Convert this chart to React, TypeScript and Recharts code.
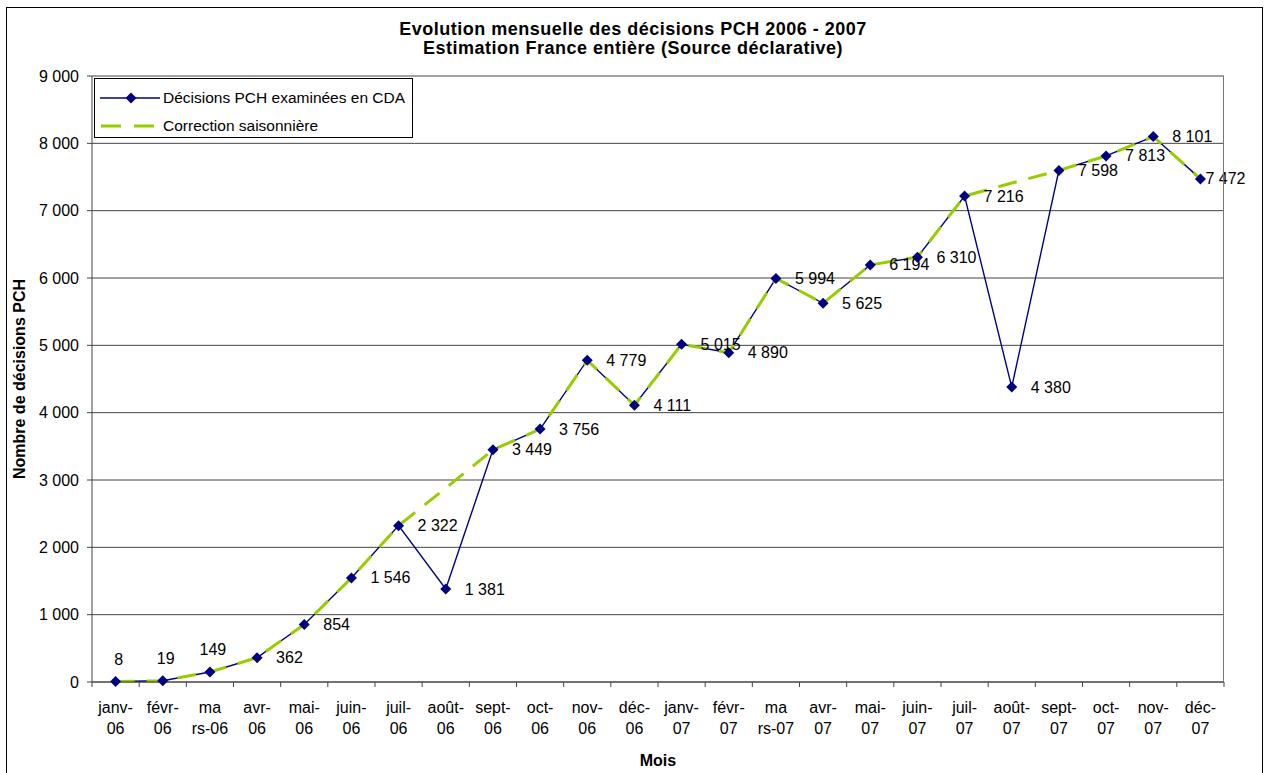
import { LineChart, Line, XAxis, YAxis, CartesianGrid } from "recharts";

const months = [
  "janv-\n06", "févr-\n06", "ma\nrs-06", "avr-\n06", "mai-\n06", "juin-\n06",
  "juil-\n06", "août-\n06", "sept-\n06", "oct-\n06", "nov-\n06", "déc-\n06",
  "janv-\n07", "févr-\n07", "ma\nrs-07", "avr-\n07", "mai-\n07", "juin-\n07",
  "juil-\n07", "août-\n07", "sept-\n07", "oct-\n07", "nov-\n07", "déc-\n07",
];

const decisions = [
  8, 19, 149, 362, 854, 1546, 2322, 1381, 3449, 3756, 4779, 4111,
  5015, 4890, 5994, 5625, 6194, 6310, 7216, 4380, 7598, 7813, 8101, 7472,
];

const correction = [
  8, 19, 149, 362, 854, 1546, 2322, 2880, 3449, 3756, 4779, 4111,
  5015, 4890, 5994, 5625, 6194, 6310, 7216, 7410, 7598, 7813, 8101, 7472,
];

const yTicks = [0, 1000, 2000, 3000, 4000, 5000, 6000, 7000, 8000, 9000];

const rows = months.map((m, i) => ({ mois: m, cda: decisions[i], saison: correction[i] }));

const FONT = '"Liberation Sans", Arial, sans-serif';
const NAVY = "#000080";
const GREEN = "#99CC00";
const W = 1269;
const H = 773;
const PLOT_L = 92;
const PLOT_R = 1224;
const PLOT_T = 76;
const PLOT_B = 682;
const HALF = (PLOT_R - PLOT_L) / months.length / 2;

const fmt = (n: number) =>
  n >= 1000 ? `${Math.floor(n / 1000)} ${String(n % 1000).padStart(3, "0")}` : String(n);

function MonthTick(props: any) {
  const { x, y, payload, index } = props;
  const lines = String(payload.value).split("\n");
  return (
    <g>
      <line x1={x - HALF} y1={y} x2={x - HALF} y2={y + 5} stroke="#444" />
      {index === months.length - 1 && (
        <line x1={x + HALF} y1={y} x2={x + HALF} y2={y + 5} stroke="#444" />
      )}
      {lines.map((t: string, k: number) => (
        <text key={k} x={x} y={y + 25 + k * 21} textAnchor="middle" dominantBaseline="central"
          fontSize={16} fontFamily={FONT} fill="#000">
          {t}
        </text>
      ))}
    </g>
  );
}

function Diamond(props: any) {
  const { cx, cy, index } = props;
  if (cx == null || cy == null) return <g key={index} />;
  return (
    <path key={index} d={`M${cx},${cy - 5.5}L${cx + 5.5},${cy}L${cx},${cy + 5.5}L${cx - 5.5},${cy}Z`} fill={NAVY} />
  );
}

function ValueLabel(props: any) {
  const { x, y, value, index } = props;
  let tx = x + 19;
  let ty = y;
  let anchor = "start";
  if (index < 3) {
    tx = x + 3;
    ty = y - 22;
    anchor = "middle";
  } else if (index === decisions.length - 1) {
    tx = x + 5;
  }
  return (
    <text x={tx} y={ty} textAnchor={anchor} dominantBaseline="central" fontSize={16} fontFamily={FONT} fill="#000">
      {fmt(value)}
    </text>
  );
}

export default function App() {
  return (
    <div style={{ position: "absolute", left: 0, top: 0, width: W, height: H, overflow: "hidden", background: "#fff", fontFamily: FONT }}>
      <div style={{ position: "absolute", left: 6, top: 7, width: W - 12, height: H + 10, border: "1.5px solid #000", boxSizing: "border-box" }} />
      <div style={{ position: "absolute", left: 0, width: 1266, top: 20, textAlign: "center", fontWeight: "bold", fontSize: 18, letterSpacing: 0.5, lineHeight: "19px", color: "#000" }}>
        Evolution mensuelle des décisions PCH 2006 - 2007
        <br />
        Estimation France entière (Source déclarative)
      </div>
      <LineChart width={W} height={H} data={rows} margin={{ top: PLOT_T, right: W - PLOT_R, bottom: 0, left: 0 }} style={{ position: "absolute", left: 0, top: 0 }}>
        <CartesianGrid vertical={false} stroke="#444" />
        <XAxis dataKey="mois" interval={0} height={H - PLOT_B} tickLine={false} tickSize={0} tickMargin={0}
          padding={{ left: HALF, right: HALF }} stroke="#444" tick={<MonthTick />} />
        <YAxis width={PLOT_L} domain={[0, 9000]} ticks={yTicks} tickSize={5} tickMargin={8} stroke="#444"
          tickFormatter={fmt} tick={{ fill: "#000", fontSize: 16, fontFamily: FONT }} />
        <Line dataKey="cda" stroke={NAVY} strokeWidth={1.4} dot={false} activeDot={false} isAnimationActive={false} />
        <Line dataKey="saison" stroke={GREEN} strokeWidth={3} strokeDasharray="19 12" dot={false} activeDot={false} isAnimationActive={false} />
        <Line dataKey="cda" stroke="none" dot={<Diamond />} activeDot={false} label={<ValueLabel />} isAnimationActive={false} />
      </LineChart>
      <div style={{ position: "absolute", left: PLOT_L, top: PLOT_T, width: PLOT_R - PLOT_L, height: PLOT_B - PLOT_T, borderRight: "1.5px solid #777", boxSizing: "border-box", pointerEvents: "none" }} />
      <div style={{ position: "absolute", left: 94, top: 78, width: 319, height: 60, border: "1px solid #000", background: "#fff", boxSizing: "border-box", fontSize: 15.5, color: "#000" }}>
        <svg width={70} height={58} style={{ position: "absolute", left: 0, top: 0 }}>
          <line x1={5} y1={19} x2={65} y2={19} stroke={NAVY} strokeWidth={1.4} />
          <path d="M36,13.5L41.5,19L36,24.5L30.5,19Z" fill={NAVY} />
          <line x1={6} y1={47} x2={65} y2={47} stroke={GREEN} strokeWidth={3} strokeDasharray="20 13" />
        </svg>
        <div style={{ position: "absolute", left: 68, top: 9, whiteSpace: "nowrap", lineHeight: "20px" }}>Décisions PCH examinées en CDA</div>
        <div style={{ position: "absolute", left: 68, top: 37, whiteSpace: "nowrap", lineHeight: "20px" }}>Correction saisonnière</div>
      </div>
      <div style={{ position: "absolute", left: 20, top: 379, transform: "translate(-50%, -50%) rotate(-90deg)", whiteSpace: "nowrap", fontWeight: "bold", fontSize: 16, color: "#000" }}>
        Nombre de décisions PCH
      </div>
      <div style={{ position: "absolute", left: PLOT_L, width: PLOT_R - PLOT_L, top: 751, textAlign: "center", fontWeight: "bold", fontSize: 16, lineHeight: "20px", color: "#000" }}>
        Mois
      </div>
    </div>
  );
}
